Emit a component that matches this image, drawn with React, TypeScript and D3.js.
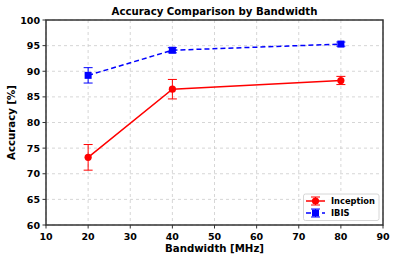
import React from 'react';
import * as d3 from 'd3';

const bandwidths = [20, 40, 80];
const inceptionAcc = [73.2, 86.5, 88.2];
const inceptionErr = [2.5, 1.9, 0.8];
const ibisAcc = [89.2, 94.1, 95.3];
const ibisErr = [1.5, 0.5, 0.4];
const xTicks = [10, 20, 30, 40, 50, 60, 70, 80, 90];
const yTicks = [60, 65, 70, 75, 80, 85, 90, 95, 100];

const W = 396;
const H = 261;
const M = { left: 46, right: 383, top: 20, bottom: 225 };
const FONT = 'DejaVu Sans, sans-serif';

export default function App() {
  const x = d3.scaleLinear().domain([10, 90]).range([M.left, M.right]);
  const y = d3.scaleLinear().domain([60, 100]).range([M.bottom, M.top]);
  const line = d3.line<number>().x((d, i) => x(bandwidths[i])).y(d => y(d));

  const series = [
    { name: 'Inception', vals: inceptionAcc, errs: inceptionErr, color: '#ff0000', dash: null, marker: 'circle' },
    { name: 'IBIS', vals: ibisAcc, errs: ibisErr, color: '#0000ff', dash: '5,3', marker: 'square' },
  ];

  const drawMarker = (kind: string, cx: number, cy: number, color: string, key: string) =>
    kind === 'circle'
      ? <circle key={key} cx={cx} cy={cy} r={3.6} fill={color} />
      : <rect key={key} x={cx - 3.5} y={cy - 3.5} width={7} height={7} fill={color} />;

  return (
    <svg width={W} height={H} style={{ position: 'absolute', left: 0, top: 0, background: '#fff' }}
      fontFamily={FONT} fontWeight="bold">
      {/* grid */}
      {xTicks.map(t => (
        <line key={'gx' + t} x1={x(t)} x2={x(t)} y1={M.top} y2={M.bottom}
          stroke="#cccccc" strokeWidth={0.8} strokeDasharray="3,3" />
      ))}
      {yTicks.map(t => (
        <line key={'gy' + t} x1={M.left} x2={M.right} y1={y(t)} y2={y(t)}
          stroke="#cccccc" strokeWidth={0.8} strokeDasharray="3,3" />
      ))}

      {/* series */}
      {series.map(s => (
        <g key={s.name}>
          <path d={line(s.vals) || ''} fill="none" stroke={s.color} strokeWidth={1.5}
            strokeDasharray={s.dash || undefined} />
          {s.vals.map((v, i) => {
            const cx = x(bandwidths[i]);
            const hi = y(v + s.errs[i]);
            const lo = y(v - s.errs[i]);
            return (
              <g key={i}>
                <line x1={cx} x2={cx} y1={hi} y2={lo} stroke={s.color} strokeWidth={1} />
                <line x1={cx - 4.5} x2={cx + 4.5} y1={hi} y2={hi} stroke={s.color} strokeWidth={1} />
                <line x1={cx - 4.5} x2={cx + 4.5} y1={lo} y2={lo} stroke={s.color} strokeWidth={1} />
                {drawMarker(s.marker, cx, y(v), s.color, 'm' + i)}
              </g>
            );
          })}
        </g>
      ))}

      {/* frame */}
      <rect x={M.left} y={M.top} width={M.right - M.left} height={M.bottom - M.top}
        fill="none" stroke="#333333" strokeWidth={1.5} />

      {/* ticks */}
      {xTicks.map(t => (
        <g key={'xt' + t}>
          <line x1={x(t)} x2={x(t)} y1={M.bottom} y2={M.bottom + 3.5} stroke="#333" strokeWidth={1} />
          <text x={x(t)} y={M.bottom + 14.5} textAnchor="middle" fontSize={9.5} fill="#000">{t}</text>
        </g>
      ))}
      {yTicks.map(t => (
        <g key={'yt' + t}>
          <line x1={M.left - 3.5} x2={M.left} y1={y(t)} y2={y(t)} stroke="#333" strokeWidth={1} />
          <text x={M.left - 6} y={y(t) + 3.5} textAnchor="end" fontSize={9.5} fill="#000">{t}</text>
        </g>
      ))}

      {/* labels */}
      <text x={(M.left + M.right) / 2} y={15} textAnchor="middle" fontSize={10.2} fill="#000">
        Accuracy Comparison by Bandwidth
      </text>
      <text x={(M.left + M.right) / 2} y={252} textAnchor="middle" fontSize={10.2} fill="#000">
        Bandwidth [MHz]
      </text>
      <text transform={`translate(15,${(M.top + M.bottom) / 2}) rotate(-90)`} textAnchor="middle"
        fontSize={10.2} fill="#000">Accuracy [%]</text>

      {/* legend */}
      <g>
        <rect x={303.5} y={194} width={75.5} height={26.5} rx={2} fill="#fff" fillOpacity={0.85}
          stroke="#cccccc" strokeWidth={0.8} />
        {series.map((s, i) => {
          const ly = 201 + i * 12;
          return (
            <g key={'lg' + s.name}>
              <line x1={306} x2={325} y1={ly} y2={ly} stroke={s.color} strokeWidth={1.5}
                strokeDasharray={s.dash || undefined} />
              <line x1={315.5} x2={315.5} y1={ly - 4} y2={ly + 4} stroke={s.color} strokeWidth={1} />
              <line x1={311} x2={320} y1={ly - 4} y2={ly - 4} stroke={s.color} strokeWidth={1} />
              <line x1={311} x2={320} y1={ly + 4} y2={ly + 4} stroke={s.color} strokeWidth={1} />
              {drawMarker(s.marker, 315.5, ly, s.color, 'lm')}
              <text x={331} y={ly + 3} fontSize={8.3} fill="#000">{s.name}</text>
            </g>
          );
        })}
      </g>
    </svg>
  );
}
